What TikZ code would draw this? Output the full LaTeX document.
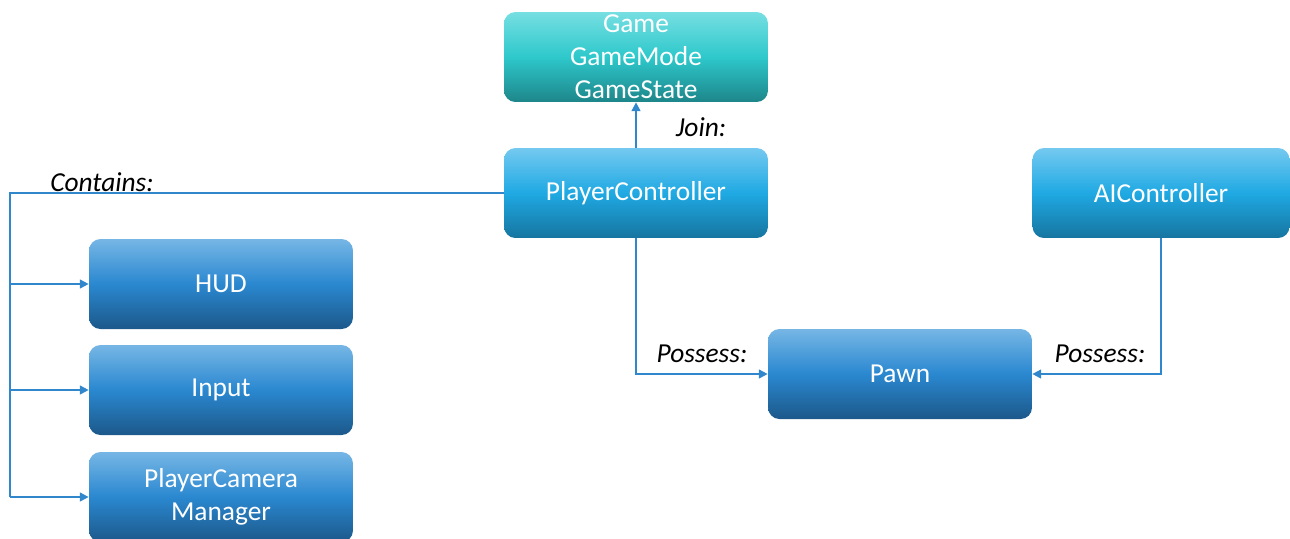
\documentclass[tikz,border=0pt]{standalone}
\usepackage{fontspec}
\setmainfont{Carlito}
\usetikzlibrary{arrows.meta}

\definecolor{linkblue}{HTML}{3087CC}
\definecolor{tealtop}{HTML}{76DFE2}
\definecolor{tealmid}{HTML}{2EC8CB}
\definecolor{tealbot}{HTML}{1D868A}
\definecolor{skytop}{HTML}{74C9F0}
\definecolor{skymid}{HTML}{1FA9E3}
\definecolor{skybot}{HTML}{1675A0}
\definecolor{bluetop}{HTML}{76B6E5}
\definecolor{bluemid}{HTML}{2A88D0}
\definecolor{bluebot}{HTML}{1C588A}

\begin{document}
\begin{tikzpicture}[x=0.02cm, y=-0.02cm,
    box/.style={rounded corners=6.5pt, minimum width=5.28cm, minimum height=1.8cm,
        text=white, align=center, inner sep=0pt,
        font=\fontsize{15.6}{18.7}\selectfont},
    gamebox/.style={box, top color=tealtop, bottom color=tealbot, middle color=tealmid},
    ctrlbox/.style={box, top color=skytop, bottom color=skybot, middle color=skymid},
    partbox/.style={box, top color=bluetop, bottom color=bluebot, middle color=bluemid},
    link/.style={draw=linkblue, line width=1pt},
    linkarrow/.style={link, -{Triangle[length=5pt, width=5pt]}},
    tag/.style={font=\fontsize{15.6}{18}\selectfont\itshape}]
    \useasboundingbox (0,0) rectangle (1290,538);
    \clip (0,0) rectangle (1290,538);

    % boxes
    \node[gamebox] (game) at (636,57) {Game\\GameMode\\GameState};
    \node[ctrlbox] (pc) at (636,193) {PlayerController};
    \node[ctrlbox, minimum width=5.14cm] (ai) at (1161,193) {AIController};
    \node[partbox] (hud) at (221,284) {HUD};
    \node[partbox] (input) at (221,390) {Input};
    \node[partbox] (cam) at (221,497) {PlayerCamera\\Manager};
    \node[partbox] (pawn) at (900,374) {Pawn};

    % join
    \draw[linkarrow] (pc.north) -- (game.south);
    \node[tag] (join) at (701,127) {Join:};

    % contains
    \coordinate (bustop) at (10,193);
    \coordinate (busbot) at (10,497);
    \draw[link] (pc.west) -- (bustop) -- (busbot);
    \draw[linkarrow] (10,284) -- (hud.west);
    \draw[linkarrow] (10,390) -- (input.west);
    \draw[linkarrow] (busbot) -- (cam.west);
    \node[tag] (contains) at (102,182) {Contains:};

    % possess
    \draw[linkarrow] (pc.south) |- (pawn.west);
    \draw[linkarrow] (ai.south) |- (pawn.east);
    \node[tag] (possl) at (702,354) {Possess:};
    \node[tag] (possr) at (1100,354) {Possess:};
\end{tikzpicture}
\end{document}
